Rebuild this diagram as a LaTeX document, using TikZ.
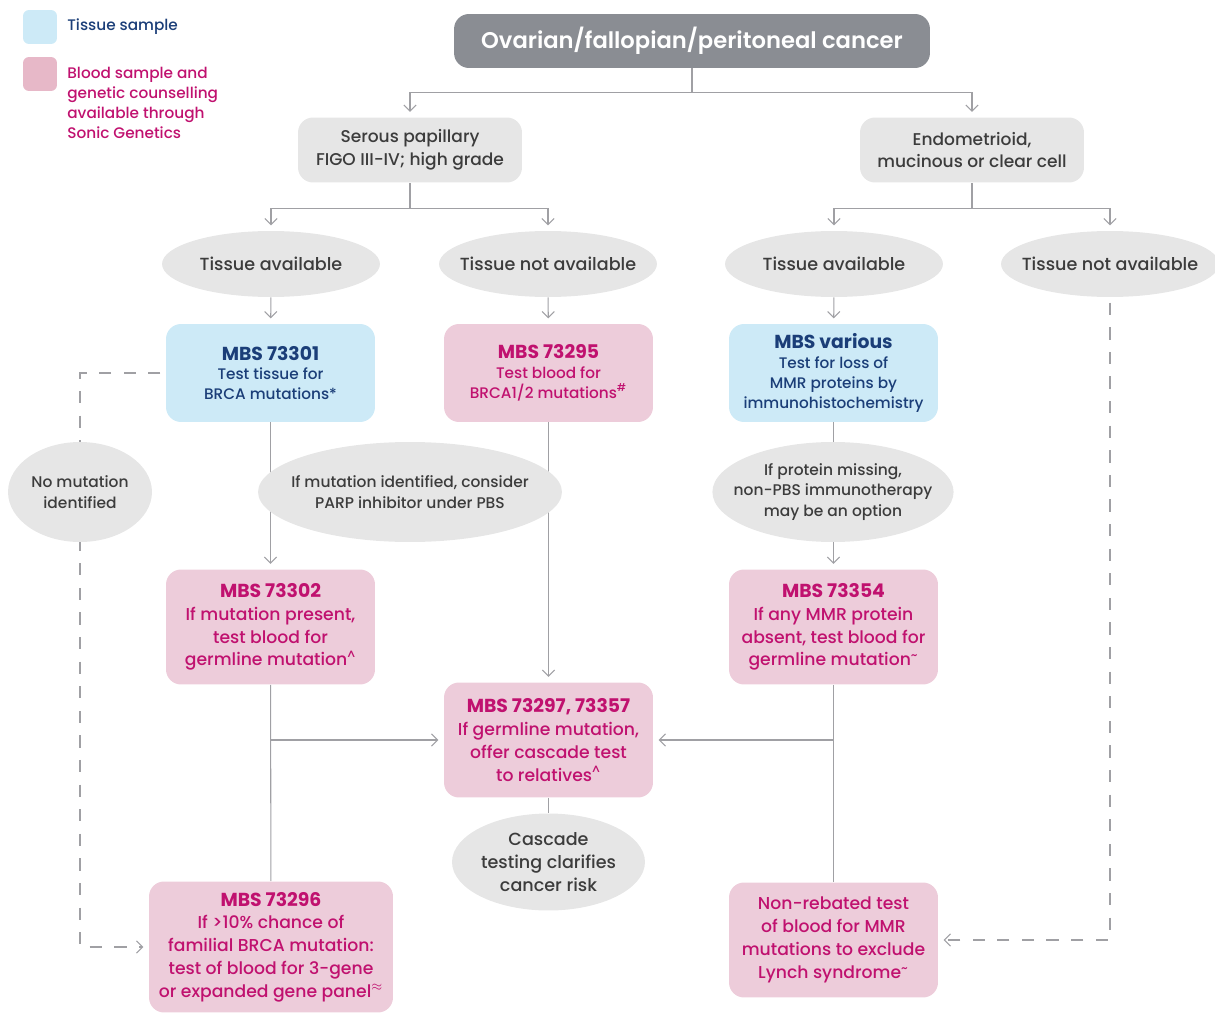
\documentclass[tikz,border=0pt]{standalone}
\usepackage{fontspec}
\setmainfont{Poppins}[UprightFont={* Medium}, BoldFont={* SemiBold}]
\newfontface\headbold{Poppins Bold}
\usetikzlibrary{shapes.geometric}
\usetikzlibrary{arrows.meta}
\usetikzlibrary{backgrounds}

\definecolor{tissuefill}{HTML}{CDEAF7}
\definecolor{tissuetext}{HTML}{1B3E78}
\definecolor{bloodfill}{HTML}{EDCCDA}
\definecolor{bloodkey}{HTML}{E7B8C8}
\definecolor{bloodtext}{HTML}{C0116F}
\definecolor{greyfill}{HTML}{E6E6E6}
\definecolor{greytext}{HTML}{3C3C3C}
\definecolor{titlefill}{HTML}{8A8D93}
\definecolor{linegrey}{HTML}{A0A0A4}

\newcommand{\boxhead}[1]{{\headbold\fontsize{10.7}{12}\selectfont #1}}

\begin{document}
\begin{tikzpicture}[x=0.02cm, y=-0.02cm,
    box/.style={rounded corners=0.3cm, minimum width=4.18cm, inner sep=2pt, align=center},
    tissue/.style={box, fill=tissuefill, text=tissuetext, minimum height=1.96cm, font=\fontsize{8.7}{11.3}\selectfont},
    blood/.style={box, fill=bloodfill, text=bloodtext, minimum height=1.96cm, font=\fontsize{8.7}{11.3}\selectfont},
    bigblood/.style={blood, minimum height=2.3cm, font=\fontsize{9.8}{13}\selectfont},
    greybox/.style={box, fill=greyfill, text=greytext, minimum width=4.48cm, minimum height=1.3cm, font=\fontsize{9.7}{13}\selectfont},
    oval/.style={ellipse, fill=greyfill, text=greytext, inner sep=0pt, inner xsep=-8pt, align=center, minimum width=4.36cm, minimum height=1.32cm, font=\fontsize{10}{13}\selectfont},
    note/.style={oval, minimum height=2cm, font=\fontsize{8.8}{11.8}\selectfont},
    conn/.style={draw=linegrey, line width=0.6pt},
    arr/.style={conn, -{Straight Barb[length=3.5pt,width=7pt]}, shorten >=3pt},
    darr/.style={arr, dash pattern=on 7pt off 7pt, shorten <=3pt}
]
    \useasboundingbox (0,0) rectangle (1215,1014);

    % key
    \node[box, fill=tissuefill, minimum width=0.68cm, minimum height=0.68cm, rounded corners=0.12cm] (keytissue) at (40,27) {};
    \node[anchor=west, text=tissuetext, inner sep=0pt, font=\fontsize{8.7}{11.3}\selectfont] (keytissuetext) at (67,27) {Tissue sample};
    \node[box, fill=bloodkey, minimum width=0.68cm, minimum height=0.68cm, rounded corners=0.12cm] (keyblood) at (40,74) {};
    \node[anchor=north west, align=left, text=bloodtext, inner sep=0pt, font=\fontsize{8.7}{11.3}\selectfont] (keybloodtext) at (67,67) {Blood sample and\\genetic counselling\\available through\\Sonic Genetics};

    % top of the tree
    \node[box, fill=titlefill, text=white, minimum width=9.52cm, minimum height=1.08cm, font=\bfseries\fontsize{12.9}{15}\selectfont] (title) at (692,41) {Ovarian/fallopian/peritoneal cancer};
    \node[greybox] (serous) at (410,150) {Serous papillary\\FIGO III-IV; high grade};
    \node[greybox] (endo) at (972,150) {Endometrioid,\\mucinous or clear cell};

    \node[oval] (tavA) at (271,264) {Tissue available};
    \node[oval] (tnaA) at (548,264) {Tissue not available};
    \node[oval] (tavB) at (834,264) {Tissue available};
    \node[oval] (tnaB) at (1110,264) {Tissue not available};

    % first tests
    \node[tissue] (mbsA) at (270.5,373) {\boxhead{MBS 73301}\\Test tissue for\\BRCA mutations*};
    \node[blood] (mbsBlood) at (548.5,373) {\boxhead{MBS 73295}\\Test blood for\\BRCA1/2 mutations\textsuperscript{\#}};
    \node[tissue] (mbsVar) at (833.5,373) {\boxhead{MBS various}\\Test for loss of\\MMR proteins by\\immunohistochemistry};

    \node[note, minimum width=6.08cm] (parp) at (410,492) {If mutation identified, consider\\PARP inhibitor under PBS};
    \node[note, minimum width=4.76cm] (protein) at (833,492) {If protein missing,\\non-PBS immunotherapy\\may be an option};
    \node[note, minimum width=2.88cm] (nomut) at (80,492) {No mutation\\identified};

    % follow-up tests
    \node[bigblood] (mbs302) at (270.5,627) {\boxhead{MBS 73302}\\If mutation present,\\test blood for\\germline mutation\textsuperscript{\textasciicircum}};
    \node[bigblood] (mbs354) at (833.5,627) {\boxhead{MBS 73354}\\If any MMR protein\\absent, test blood for\\germline mutation\textsuperscript{\textasciitilde}};
    \node[bigblood] (cascade) at (548.5,740) {\boxhead{MBS 73297, 73357}\\If germline mutation,\\offer cascade test\\to relatives\textsuperscript{\textasciicircum}};
    \node[oval, minimum width=3.86cm, minimum height=1.94cm] (cascadeNote) at (548.5,862) {Cascade\\testing clarifies\\cancer risk};
    \node[bigblood, minimum width=4.88cm, minimum height=2.62cm] (mbs296) at (271,947) {\boxhead{MBS 73296}\\If >10\% chance of\\familial BRCA mutation:\\test of blood for 3-gene\\or expanded gene panel$^{\approx}$};
    \node[bigblood] (nonReb) at (833.5,940) {Non-rebated test\\of blood for MMR\\mutations to exclude\\Lynch syndrome\textsuperscript{\textasciitilde}};

    % connectors
    \begin{scope}[on background layer]
        \draw[conn] (title.south) -- ++(0,24) coordinate (splitTop);
        \draw[arr] (splitTop) -| (serous);
        \draw[arr] (splitTop) -| (endo);
        \draw[conn] (serous.south) -- ++(0,26) coordinate (splitL);
        \draw[arr] (splitL) -| (tavA);
        \draw[arr] (splitL) -| (tnaA);
        \draw[conn] (endo.south) -- ++(0,26) coordinate (splitR);
        \draw[arr] (splitR) -| (tavB);
        \draw[arr] (splitR) -| (tnaB);

        \draw[arr] (tavA) -- (mbsA);
        \draw[arr] (tnaA) -- (mbsBlood);
        \draw[arr] (tavB) -- (mbsVar);

        \draw[arr] (mbsA) -- (mbs302);
        \draw[arr] (mbsBlood) -- (cascade);
        \draw[arr] (mbsVar) -- (mbs354);

        \draw[conn] (mbs302) -- (mbs296);
        \draw[conn] (mbs354) -- (nonReb);
        \draw[arr] (mbs302.south |- cascade.west) -- (cascade.west);
        \draw[arr] (mbs354.south |- cascade.east) -- (cascade.east);
        \draw[conn] (cascade) -- (cascadeNote);

        \draw[darr] (mbsA.west) -| (nomut.center) |- (mbs296.west);
        \draw[darr] (tnaB.south) |- (nonReb.east);
    \end{scope}
\end{tikzpicture}
\end{document}
